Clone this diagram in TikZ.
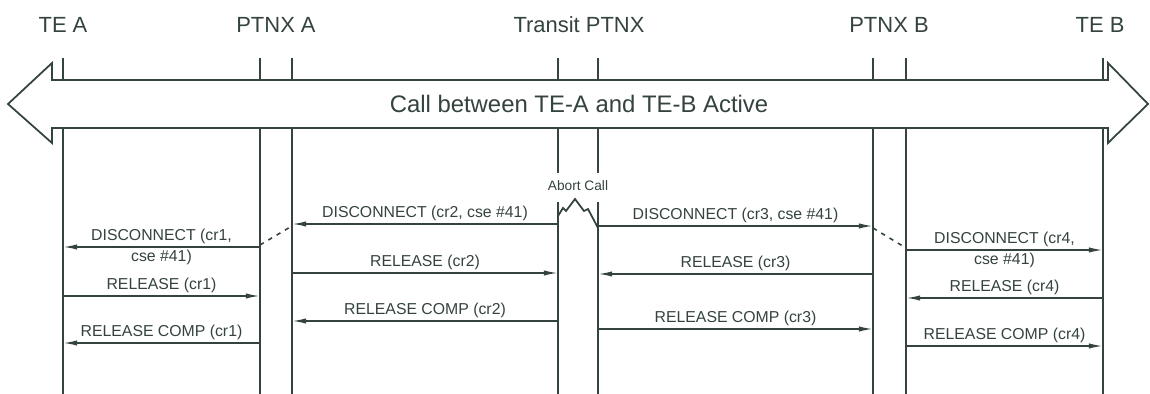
\documentclass[tikz,border=0pt]{standalone}
\usepackage{fontspec}
\setmainfont{Liberation Sans}
\usetikzlibrary{arrows.meta}
\definecolor{sig-ink}{RGB}{52,66,64}

% message from lifeline #2 to lifeline #3 at height #4, label node #1
\newcommand{\sigmsg}[5]{%
  \draw[msg] (#2 |- 0,#4) -- node[lbl,above] (#1) {#5} (#3 |- 0,#4);}

\begin{document}
\begin{tikzpicture}[x=0.02cm,y=-0.02cm,
    lifeline/.style={sig-ink,line width=1.4pt},
    msg/.style={sig-ink,line width=0.9pt,-{Latex[length=8pt,width=3pt]}},
    lbl/.style={text=sig-ink,font=\fontsize{9}{10}\selectfont,inner sep=1.5pt},
    entity/.style={text=sig-ink,font=\fontsize{12.5}{14}\selectfont}]
    \useasboundingbox (0,0) rectangle (1150,394);

    % entities
    \node[entity] (nTEA) at (63,25) {TE A};
    \node[entity] (nPXA) at (276,25) {PTNX A};
    \node[entity] (nTR) at (579,25) {Transit PTNX};
    \node[entity] (nPXB) at (889,25) {PTNX B};
    \node[entity] (nTEB) at (1100,25) {TE B};

    \coordinate (teA) at (63,58);
    \coordinate (pxAl) at (260,58);
    \coordinate (pxAr) at (292,58);
    \coordinate (trL) at (558,58);
    \coordinate (trR) at (598,58);
    \coordinate (pxBl) at (873,58);
    \coordinate (pxBr) at (906,58);
    \coordinate (teB) at (1103,58);

    % lifelines
    \foreach \c in {teA,pxAl,pxAr,pxBl,pxBr,teB}
        \draw[lifeline] (\c) -- (\c |- 0,394);
    \foreach \c in {trL,trR} {
        \draw[lifeline] (\c) -- (\c |- 0,173);
        \draw[lifeline] (\c |- 0,202) -- (\c |- 0,394);
    }

    % active call
    \draw[sig-ink,line width=1pt,fill=white] (52,80) -- (1108,80) -- (1108,63)
        -- (1148,104) -- (1108,143) -- (1108,128) -- (52,128) -- (52,143)
        -- (8,104) -- (52,63) -- cycle;
    \node[text=sig-ink,font=\fontsize{13.6}{15}\selectfont] (nCall) at (579,104)
        {Call between TE-A and TE-B Active};

    % abort in the transit PTNX
    \node[text=sig-ink,font=\fontsize{7.8}{9}\selectfont] (nAbort) at (578,186) {Abort Call};
    \draw[sig-ink,line width=1pt] (trL |- 0,216) -- (563,208) -- (566,211)
        -- (575,199) -- (584,211) -- (588,209) -- (trR |- 0,228);

    % clearing
    \sigmsg{m2}{trL}{pxAr}{224}{DISCONNECT (cr2, cse \#41)}
    \sigmsg{m3}{trR}{pxBl}{226}{DISCONNECT (cr3, cse \#41)}
    \draw[msg] (pxAl |- 0,247) -- node[lbl,above] (m1) {DISCONNECT (cr1,}
        node[lbl,below] (m1b) {cse \#41)} (teA |- 0,247);
    \draw[msg] (pxBr |- 0,250) -- node[lbl,above] (m4) {DISCONNECT (cr4,}
        node[lbl,below] (m4b) {cse \#41)} (teB |- 0,250);
    \draw[sig-ink,line width=0.9pt,dash pattern=on 2.5pt off 3pt]
        (pxAl |- 0,245) -- (pxAr |- 0,226);
    \draw[sig-ink,line width=0.9pt,dash pattern=on 2.5pt off 3pt]
        (pxBl |- 0,228) -- (pxBr |- 0,248);

    \sigmsg{r1}{teA}{pxAl}{296}{RELEASE (cr1)}
    \sigmsg{r2}{pxAr}{trL}{273}{RELEASE (cr2)}
    \sigmsg{r3}{pxBl}{trR}{274}{RELEASE (cr3)}
    \sigmsg{r4}{teB}{pxBr}{298}{RELEASE (cr4)}

    \sigmsg{c1}{pxAl}{teA}{343}{RELEASE COMP (cr1)}
    \sigmsg{c2}{trL}{pxAr}{321}{RELEASE COMP (cr2)}
    \sigmsg{c3}{trR}{pxBl}{329}{RELEASE COMP (cr3)}
    \sigmsg{c4}{pxBr}{teB}{346}{RELEASE COMP (cr4)}
\end{tikzpicture}
\end{document}
